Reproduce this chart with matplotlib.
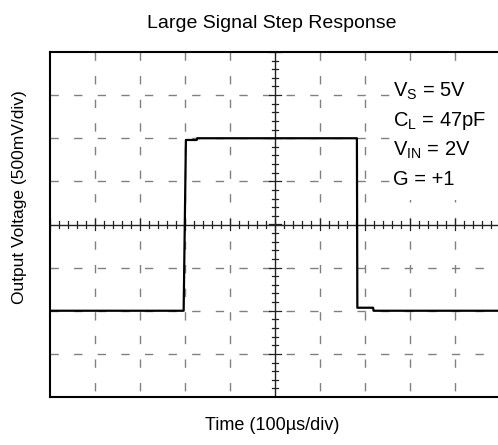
import numpy as np
import matplotlib
matplotlib.use('Agg')
import matplotlib.pyplot as plt
from matplotlib.patches import Rectangle

plt.rcParams['font.family'] = ['Liberation Sans', 'DejaVu Sans']
plt.rcParams['mathtext.fontset'] = 'custom'
plt.rcParams['mathtext.rm'] = 'Liberation Sans'

# time in us (100us/div), output in V (500mV/div)
t_us = [0, 297, 298, 302, 326, 327, 682, 683, 718, 719, 1000]
v_out = [-1.0, -1.0, -0.6, 0.98, 0.98, 1.0, 1.0, -0.965, -0.965, -1.0, -1.0]

notes = [r'V$_\mathrm{S}$ = 5V', r'C$_\mathrm{L}$ = 47pF',
         r'V$_\mathrm{IN}$ = 2V', 'G = +1']

x_div = 100
y_div = 0.5

fig = plt.figure(figsize=(4.98, 4.45), dpi=100)
# plot box runs slightly past the right edge of the image, as in the original
ax = fig.add_axes([50 / 498, 48 / 445, 450 / 498, 345 / 445])
ax.set_xlim(0, 1000)
ax.set_ylim(-2, 2)

# dashed graticule
for x in np.arange(x_div, 1000, x_div):
    if x != 500:
        ax.plot([x, x], [2, -2], color='#808080', lw=1.0, dashes=(6, 11), zorder=1)
for y in np.arange(-2 + y_div, 2, y_div):
    if abs(y) > 1e-9:
        ax.plot([0, 1000], [y, y], color='#808080', lw=1.0, dashes=(6, 11), zorder=1)

# center axes with minor ticks
ax.axhline(0, color='#222222', lw=1.0, zorder=2)
ax.axvline(500, color='#222222', lw=1.0, zorder=2)
for x in np.arange(0, 1001, 20):
    h = 0.07 if x % 100 else 0.13
    ax.plot([x, x], [-h / 2, h / 2], color='#222222', lw=0.9, zorder=2)
for y in np.arange(-2, 2.001, 0.1):
    h = 15 if round(y * 10) % 5 else 28
    ax.plot([500 - h / 2, 500 + h / 2], [y, y], color='#222222', lw=0.9, zorder=2)

ax.plot(t_us, v_out, color='black', lw=1.6, zorder=3)

# white panel behind the conditions text
ax.add_patch(Rectangle((0.762, 0.571), 0.214, 0.391, transform=ax.transAxes,
                       facecolor='white', edgecolor='none', zorder=3.5))
for i, s in enumerate(notes):
    ax.text(0.762, 0.870 - i * 0.0855, s, fontsize=14.5, va='baseline', ha='left',
            transform=ax.transAxes, zorder=4)

ax.set_xticks([])
ax.set_yticks([])
for sp in ax.spines.values():
    sp.set_linewidth(1.5)

fig.text(272 / 498, 1 - 23 / 445, 'Large Signal Step Response', fontsize=14,
         ha='center', va='center')
fig.text(272 / 498, 1 - 426 / 445, 'Time (100\u00b5s/div)', fontsize=13,
         ha='center', va='center')
fig.text(20 / 498, 1 - 197 / 445, 'Output Voltage (500mV/div)', fontsize=12.5,
         ha='center', va='center', rotation=90)

fig.savefig('out.png', dpi=100)
